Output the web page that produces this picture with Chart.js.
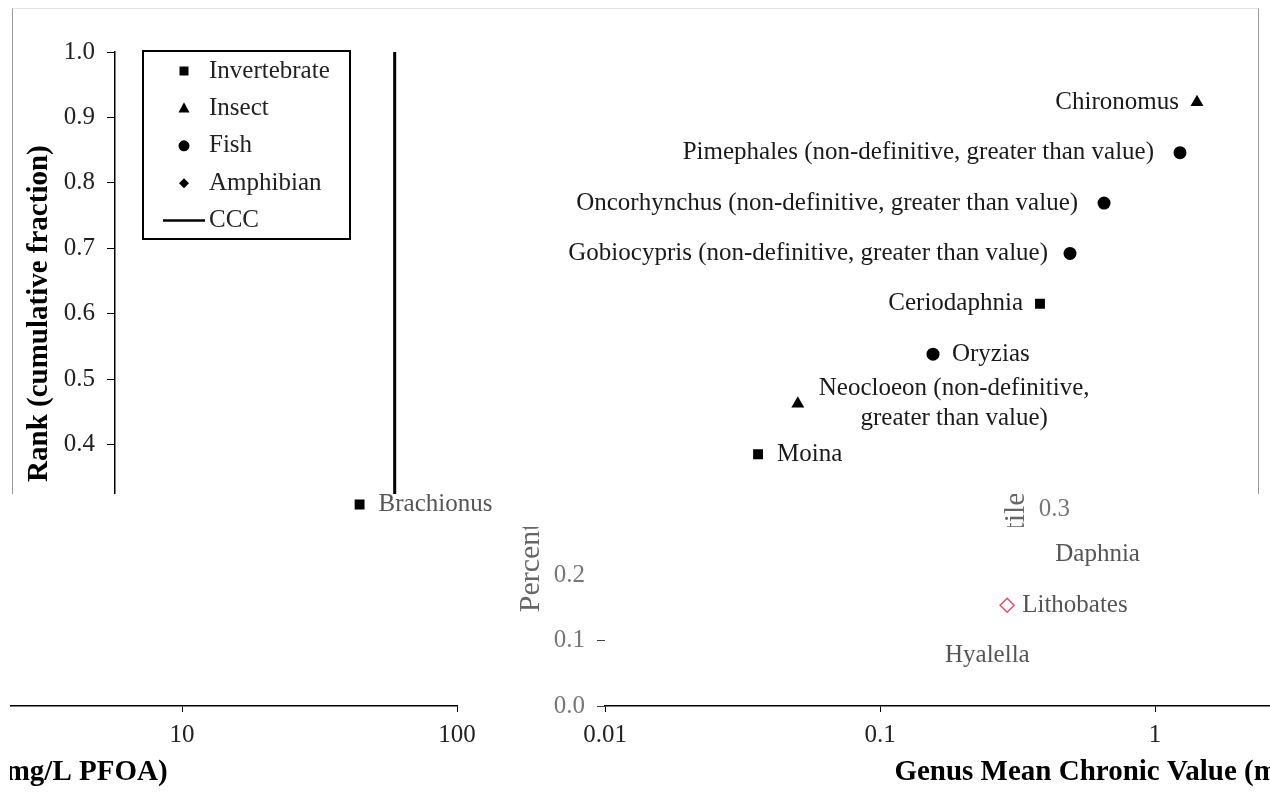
<!DOCTYPE html>
<html>
<head>
<meta charset="utf-8">
<script src="https://cdn.jsdelivr.net/npm/chart.js@4.4.1/dist/chart.umd.min.js"></script>
<style>
  body { margin: 0; background: #fff; }
  #stage { position: relative; width: 1270px; height: 793px; overflow: hidden; background: #fff; }
</style>
</head>
<body>
<div id="stage"></div>
<script>
/* global Chart */

// ranked genera (lowest GMCV first)
var genera = ['Hyalella', 'Lithobates', 'Daphnia', 'Brachionus', 'Moina',
    'Neocloeon (non-definitive,\ngreater than value)', 'Oryzias', 'Ceriodaphnia',
    'Gobiocypris (non-definitive, greater than value)',
    'Oncorhynchus (non-definitive, greater than value)',
    'Pimephales (non-definitive, greater than value)', 'Chironomus'];
var taxa = ['Invertebrate', 'Amphibian', 'Invertebrate', 'Invertebrate', 'Invertebrate',
    'Insect', 'Fish', 'Invertebrate', 'Fish', 'Fish', 'Fish', 'Insect'];
// genus mean chronic values, mg/L PFOA
var gmcv = [0.147, 0.29, 0.37, 0.55, 2.18, 3.04, 9.43, 23.1, 29.7, 39.5, 74.6, 86.0];
// rank (cumulative fraction)
var rankFraction = [0.077, 0.154, 0.231, 0.308, 0.385, 0.462, 0.538, 0.615, 0.692, 0.769, 0.846, 0.923];
var groups = ['Invertebrate', 'Insect', 'Fish', 'Amphibian'];
var ccc = 0.104;
var xTickValues = [0.01, 0.1, 1, 10, 100];

// label placement (style only)
var labelSide = ['right', 'right', 'right', 'right', 'right', 'right', 'right',
    'left', 'left', 'left', 'left', 'left'];
var labelGap = [19, 15, 19, 19, 19, 21, 19, 17, 22, 26, 26, 18];
// markers that survive in the damaged lower strip of the figure
var lowerMarkerShown = [false, true, false, true, true, true, true, true, true, true, true, true];

var markerStyle = { Invertebrate: 'rect', Insect: 'triangle', Fish: 'circle', Amphibian: 'rectRot' };
var markerRadius = { Invertebrate: 7, Insect: 7.5, Fish: 6.5, Amphibian: 7 };

var SERIF = "'Liberation Serif', 'Times New Roman', serif";
Chart.defaults.font.family = SERIF;

var isTenth = function (v) {
    return Math.abs(v * 10 - Math.round(v * 10)) < 1e-6;
};
var isDecade = function (v) {
    var l = Math.log10(v);
    return xTickValues.some(function (t) { return Math.abs(Math.log10(t) - l) < 1e-6; });
};
var decadeLabel = function (v) {
    var e = Math.round(Math.log10(v));
    return e < 0 ? v.toFixed(-e) : String(Math.round(v));
};

// text next to every point
var pointLabels = {
    id: 'pointLabels',
    afterDatasetsDraw: function (chart, args, o) {
        var ctx = chart.ctx;
        ctx.save();
        ctx.font = o.font;
        ctx.fillStyle = o.color;
        ctx.textBaseline = 'middle';
        chart.data.datasets.forEach(function (ds, i) {
            if (!ds.names) return;
            chart.getDatasetMeta(i).data.forEach(function (pt, j) {
                var lines = ds.names[j].split('\n');
                var w = Math.max.apply(null, lines.map(function (l) { return ctx.measureText(l).width; }));
                lines.forEach(function (line, k) {
                    var y = pt.y + (k - (lines.length - 1) / 2) * o.lineHeight;
                    if (ds.sides[j] === 'left') {
                        ctx.textAlign = 'right';
                        ctx.fillText(line, pt.x - ds.gaps[j], y);
                    } else {
                        ctx.textAlign = 'center';
                        ctx.fillText(line, pt.x + ds.gaps[j] + w / 2, y);
                    }
                });
            });
        });
        ctx.restore();
    }
};

var drawMarker = function (ctx, style, x, y, r) {
    ctx.beginPath();
    if (style === 'rect') {
        ctx.rect(x - r, y - r, 2 * r, 2 * r);
    } else if (style === 'triangle') {
        ctx.moveTo(x, y - r * 1.1);
        ctx.lineTo(x + r, y + r * 0.75);
        ctx.lineTo(x - r, y + r * 0.75);
        ctx.closePath();
    } else if (style === 'circle') {
        ctx.arc(x, y, r, 0, Math.PI * 2);
    } else {
        ctx.moveTo(x, y - r);
        ctx.lineTo(x + r, y);
        ctx.lineTo(x, y + r);
        ctx.lineTo(x - r, y);
        ctx.closePath();
    }
    ctx.fill();
};

// boxed legend
var boxLegend = {
    id: 'boxLegend',
    afterDraw: function (chart, args, o) {
        if (!o.display) return;
        var ctx = chart.ctx;
        ctx.save();
        ctx.lineWidth = 2;
        ctx.strokeStyle = '#000';
        ctx.strokeRect(o.x, o.y, o.w, o.h);
        ctx.font = o.font;
        ctx.textBaseline = 'middle';
        ctx.textAlign = 'left';
        chart.data.datasets.forEach(function (ds, i) {
            var cy = o.y + o.firstRow + i * o.rowH;
            ctx.fillStyle = '#000';
            if (ds.showLine) {
                ctx.lineWidth = 2.5;
                ctx.beginPath();
                ctx.moveTo(o.lineX0, cy);
                ctx.lineTo(o.lineX1, cy);
                ctx.stroke();
            } else {
                drawMarker(ctx, ds.pointStyle, o.markerX, cy, o.markerSize[ds.pointStyle]);
            }
            ctx.fillStyle = '#222';
            ctx.fillText(ds.label, o.textX, cy);
        });
        ctx.restore();
    }
};

// minor y ticks pointing into the plot
var innerTicks = {
    id: 'innerTicks',
    afterDraw: function (chart, args, o) {
        if (!o.display) return;
        var s = chart.scales.y;
        var ctx = chart.ctx;
        ctx.save();
        ctx.strokeStyle = '#000';
        ctx.lineWidth = 1;
        s.ticks.forEach(function (t) {
            if (isTenth(t.value)) return;
            var py = Math.round(s.getPixelForValue(t.value)) + 0.5;
            ctx.beginPath();
            ctx.moveTo(s.right, py);
            ctx.lineTo(s.right + 7, py);
            ctx.stroke();
        });
        ctx.restore();
    }
};

var makeConfig = function (panel) {
    var top = panel === 'top';
    var datasets = groups.map(function (g) {
        var idx = genera.map(function (_, i) { return i; }).filter(function (i) { return taxa[i] === g; });
        var openMarker = !top && g === 'Amphibian';
        return {
            label: g,
            data: idx.map(function (i) { return { x: gmcv[i], y: rankFraction[i] }; }),
            names: idx.map(function (i) { return genera[i]; }),
            sides: idx.map(function (i) { return labelSide[i]; }),
            gaps: idx.map(function (i) { return labelGap[i]; }),
            pointStyle: markerStyle[g],
            pointRadius: top ? markerRadius[g] : idx.map(function (i) { return lowerMarkerShown[i] ? markerRadius[g] : 0; }),
            pointHoverRadius: markerRadius[g],
            backgroundColor: openMarker ? '#fff' : '#000',
            borderColor: openMarker ? '#e0506a' : '#000',
            borderWidth: openMarker ? 1.5 : 0
        };
    });
    if (top) {
        datasets.push({
            label: 'CCC',
            data: [{ x: ccc, y: 0 }, { x: ccc, y: 1 }],
            showLine: true,
            pointRadius: 0,
            borderColor: '#000',
            borderWidth: 3
        });
    }
    return {
        type: 'scatter',
        data: { datasets: datasets },
        options: {
            responsive: false,
            animation: false,
            devicePixelRatio: 1,
            layout: { padding: { left: 12, right: 55, top: top ? 52 : 398.6, bottom: 0 } },
            plugins: {
                legend: { display: false },
                tooltip: { enabled: false },
                pointLabels: {
                    font: '25px ' + SERIF,
                    color: top ? '#1a1a1a' : '#555',
                    lineHeight: 30
                },
                boxLegend: {
                    display: top,
                    x: 143, y: 51, w: 207, h: 188,
                    firstRow: 20, rowH: 37.4,
                    markerX: 184, textX: 209, lineX0: 163, lineX1: 205,
                    markerSize: { rect: 4.5, triangle: 5.5, circle: 5.5, rectRot: 5 },
                    font: '25px ' + SERIF
                },
                innerTicks: { display: top }
            },
            scales: {
                x: {
                    type: 'logarithmic',
                    min: 0.01,
                    max: 100,
                    border: { display: true, color: '#000', width: 1.5 },
                    grid: {
                        drawOnChartArea: false,
                        drawTicks: true,
                        tickLength: 6,
                        tickColor: function (c) { return c.tick && isDecade(c.tick.value) ? '#000' : 'rgba(0,0,0,0)'; }
                    },
                    ticks: {
                        autoSkip: false,
                        maxRotation: 0,
                        padding: 8,
                        color: '#222',
                        font: { size: 25 },
                        callback: function (v) { return isDecade(v) ? decadeLabel(v) : ''; }
                    },
                    title: {
                        display: true,
                        text: 'Genus Mean Chronic Value (mg/L PFOA)',
                        color: '#000',
                        font: { size: 29, weight: 'bold' },
                        padding: { top: 0, bottom: 3 }
                    },
                    afterFit: function (s) { s.height = top ? 217.8 : 87; }
                },
                y: {
                    type: 'linear',
                    min: top ? 0.2 : 0,
                    max: top ? 1.0 : 0.47,
                    border: { display: top, color: '#000', width: 1.5 },
                    grid: {
                        drawOnChartArea: false,
                        drawTicks: true,
                        tickLength: 8,
                        tickColor: function (c) {
                            if (!c.tick || !isTenth(c.tick.value)) return 'rgba(0,0,0,0)';
                            if (!top && c.tick.value > 0.15) return 'rgba(0,0,0,0)';
                            return top ? '#000' : '#444';
                        }
                    },
                    ticks: {
                        stepSize: top ? 0.05 : 0.1,
                        includeBounds: false,
                        padding: 12,
                        color: top ? '#222' : '#777',
                        font: { size: 25 },
                        callback: function (v) { return isTenth(v) ? v.toFixed(1) : ''; }
                    },
                    title: {
                        display: true,
                        text: top ? 'Rank (cumulative fraction)' : 'Percentile',
                        color: top ? '#000' : '#666',
                        font: top ? { size: 29, weight: 'bold' } : { size: 30, weight: 'normal' },
                        padding: { top: top ? 10 : 11, bottom: 0 }
                    },
                    afterFit: function (s) { s.width = 103; }
                }
            }
        },
        plugins: [pointLabels, boxLegend, innerTicks]
    };
};

var stage = document.getElementById('stage');

var addView = function (panel, clip, shiftX) {
    var box = document.createElement('div');
    Object.assign(box.style, {
        position: 'absolute', left: clip.x + 'px', top: clip.y + 'px',
        width: clip.w + 'px', height: clip.h + 'px', overflow: 'hidden'
    });
    var canvas = document.createElement('canvas');
    canvas.width = 1270;
    canvas.height = 793;
    Object.assign(canvas.style, {
        position: 'absolute', left: (shiftX - clip.x) + 'px', top: (-clip.y) + 'px',
        width: '1270px', height: '793px'
    });
    box.appendChild(canvas);
    stage.appendChild(box);
    new Chart(canvas, makeConfig(panel));
    return box;
};

// upper part of the figure
var upper = addView('top', { x: 0, y: 0, w: 1270, h: 494 }, 0);
var frame = document.createElement('div');
Object.assign(frame.style, {
    position: 'absolute', left: '12px', top: '8px', width: '1245px', height: '600px',
    borderLeft: '1px solid #999', borderRight: '1px solid #999', borderTop: '1px solid #e2e2e2'
});
upper.appendChild(frame);

// displaced strips of the lower part
addView('bottom', { x: 0, y: 494, w: 495, h: 33 }, -234);
addView('bottom', { x: 495, y: 494, w: 775, h: 33 }, 975);
addView('bottom', { x: 10, y: 527, w: 485, h: 266 }, -758);
addView('bottom', { x: 495, y: 527, w: 775, h: 266 }, 490);
</script>
</body>
</html>
